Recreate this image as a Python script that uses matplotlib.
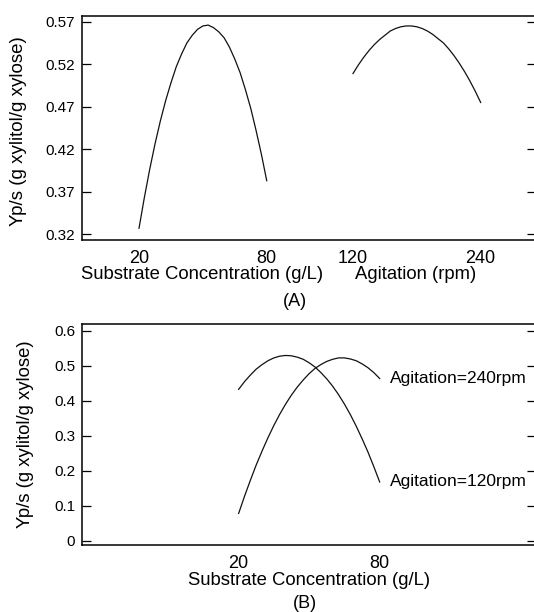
import matplotlib.pyplot as plt

plt.rcParams['font.family'] = ['Liberation Sans', 'DejaVu Sans']

# (A) main effects
conc = [20, 22.5, 25, 27.5, 30, 32.5, 35, 37.5, 40, 42.5, 45, 47.5, 50,
        52.5, 55, 57.5, 60, 62.5, 65, 67.5, 70, 72.5, 75, 77.5, 80]
yield_conc = [0.327, 0.363, 0.396, 0.426, 0.453, 0.477, 0.498, 0.517, 0.532, 0.545, 0.554, 0.561, 0.565,
              0.566, 0.563, 0.558, 0.551, 0.540, 0.526, 0.510, 0.490, 0.468, 0.442, 0.414, 0.383]
rpm = [120, 125, 130, 135, 140, 145, 150, 155, 160, 165, 170, 175, 180,
       185, 190, 195, 200, 205, 210, 215, 220, 225, 230, 235, 240]
yield_rpm = [0.509, 0.519, 0.528, 0.536, 0.543, 0.549, 0.554, 0.559, 0.562, 0.564, 0.565, 0.565, 0.564,
             0.562, 0.559, 0.555, 0.550, 0.545, 0.538, 0.530, 0.521, 0.511, 0.500, 0.488, 0.475]

# (B) interaction
conc_b = [20, 22.5, 25, 27.5, 30, 32.5, 35, 37.5, 40, 42.5, 45, 47.5, 50,
          52.5, 55, 57.5, 60, 62.5, 65, 67.5, 70, 72.5, 75, 77.5, 80]
yield_120 = [0.433, 0.455, 0.474, 0.491, 0.504, 0.515, 0.523, 0.528, 0.530, 0.529, 0.525, 0.519, 0.509,
             0.497, 0.481, 0.463, 0.442, 0.418, 0.391, 0.361, 0.328, 0.292, 0.254, 0.212, 0.168]
yield_240 = [0.078, 0.127, 0.173, 0.217, 0.257, 0.295, 0.330, 0.362, 0.391, 0.417, 0.440, 0.460, 0.478,
             0.493, 0.504, 0.513, 0.519, 0.523, 0.523, 0.520, 0.515, 0.506, 0.495, 0.481, 0.464]

ticks_a = [0.32, 0.37, 0.42, 0.47, 0.52, 0.57]
ticks_b = [0, 0.1, 0.2, 0.3, 0.4, 0.5, 0.6]
ylabel = 'Yp/s (g xylitol/g xylose)'

W, H = 534, 612
fig = plt.figure(figsize=(W / 100, H / 100), dpi=100)
left = 82.3 / W
width = (536 - 82.3) / W
axA = fig.add_axes([left, 1 - 240 / H, width, 224 / H])
axB = fig.add_axes([left, 1 - 545 / H, width, 221 / H])

lc = '#111111'
lw = 0.9


def style(ax):
    for s in ax.spines.values():
        s.set_linewidth(1.1)
    ax.tick_params(axis='y', which='both', direction='in', length=6.5, width=0.9,
                   right=True, labelsize=11, pad=5)
    ax.tick_params(axis='x', length=0, labelsize=13, pad=7.5)


# ---- panel A ----
axA.plot(conc, yield_conc, color=lc, lw=lw)
axA.set_xlim(-6.64, 206.5)
axA.set_ylim(0.3132, 0.5767)
axA.set_yticks(ticks_a)
axA.set_yticklabels(['%.2f' % t for t in ticks_a])
axA.set_xticks([20, 80])
style(axA)
axA.set_xlabel('Substrate Concentration (g/L)', fontsize=13.3)
axA.xaxis.set_label_coords(0.264, -0.118)
axA.set_ylabel(ylabel, fontsize=13.5, va='center')
axA.yaxis.set_label_coords(-0.140, 0.487)

axA2 = axA.twiny()
axA2.plot(rpm, yield_rpm, color=lc, lw=lw)
axA2.set_xlim(-134.4, 292)
axA2.set_xticks([120, 240])
axA2.xaxis.set_ticks_position('bottom')
axA2.xaxis.set_label_position('bottom')
axA2.tick_params(axis='x', length=0, labelsize=13, pad=7.5)
for s in axA2.spines.values():
    s.set_visible(False)
axA2.set_xlabel('Agitation (rpm)', fontsize=13.3)
axA2.xaxis.set_label_coords(0.735, -0.118)

fig.text(295 / W, 1 - 301 / H, '(A)', ha='center', va='center', fontsize=13)

# ---- panel B ----
axB.plot(conc_b, yield_120, color=lc, lw=lw)
axB.plot(conc_b, yield_240, color=lc, lw=lw)
axB.text(84.5, yield_240[-1], 'Agitation=240rpm', va='center', ha='left', fontsize=12.5)
axB.text(84.5, yield_120[-1], 'Agitation=120rpm', va='center', ha='left', fontsize=12.5)
axB.set_xlim(-46.5, 146.5)
axB.set_ylim(-0.0123, 0.62)
axB.set_yticks(ticks_b)
axB.set_yticklabels(['0' if t == 0 else '%.1f' % t for t in ticks_b])
axB.set_xticks([20, 80])
style(axB)
axB.tick_params(axis='x', pad=7)
axB.set_xlabel('Substrate Concentration (g/L)', fontsize=13.3)
axB.xaxis.set_label_coords(0.5, -0.124)
axB.set_ylabel(ylabel, fontsize=13.3, va='center')
axB.yaxis.set_label_coords(-0.126, 0.502)

fig.text(305 / W, 1 - 604 / H, '(B)', ha='center', va='center', fontsize=13)

fig.savefig('out.png', dpi=100)
